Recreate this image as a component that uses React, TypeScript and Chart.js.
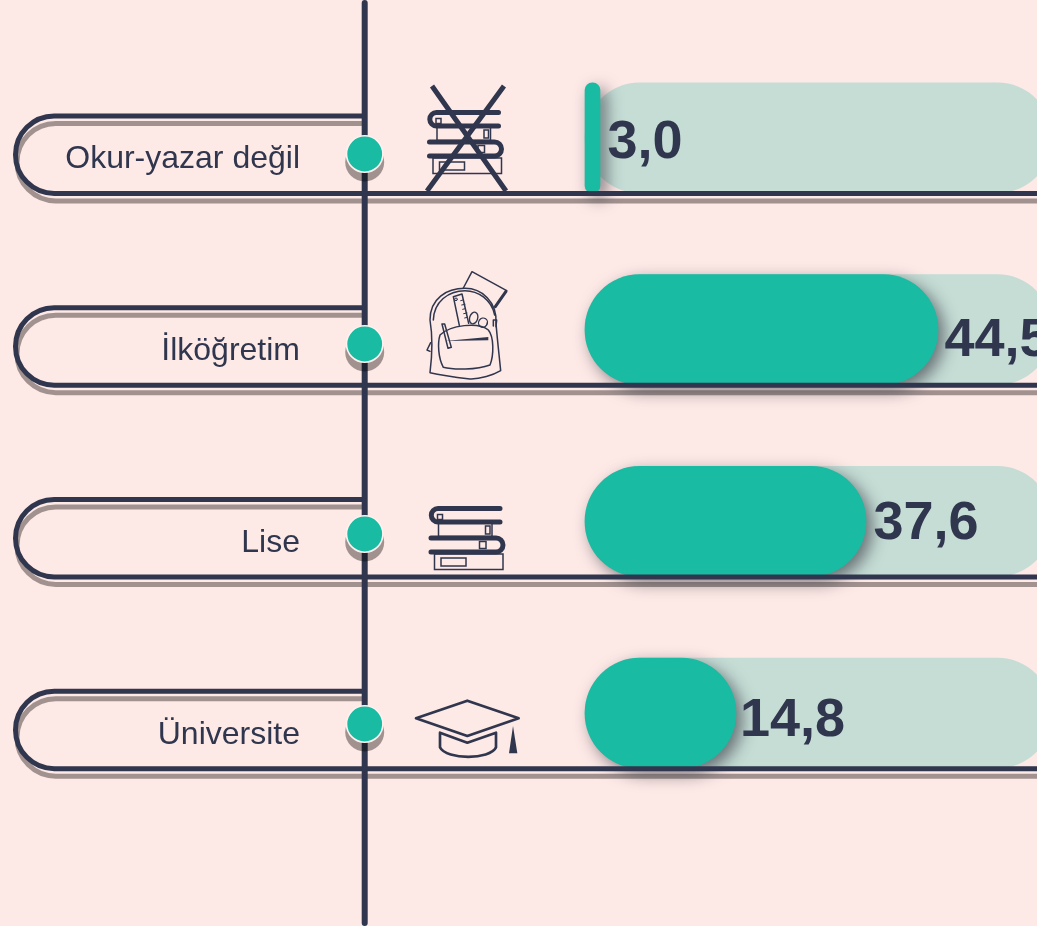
import React, { useEffect, useRef } from "react";
import { Chart, registerables, LinearScale } from "chart.js";

const categories = ["Okur-yazar değil", "İlköğretim", "Lise", "Üniversite"];
const shareValues = [3.0, 44.5, 37.6, 14.8];
const trackValues = [100, 100, 100, 100];
const valueLabels = ["3,0", "44,5", "37,6", "14,8"];

const NAVY = "#30364d";
const TEAL = "#19bba3";
const TRACK = "#c5ddd5";
const BG = "#fde9e6";
const SHADE = "#a2a0a0";

const LINE_X = 364.7;
const DOT_Y = [154, 344, 534, 724];
const VALUE_BASE = [20, 26, 17.5, 22.5];
const VALUE_GAP = [7.5, 6.5, 7.5, 4];

// The source infographic does not draw its bars in proportion to the printed
// numbers, so the axis maps values to the lengths seen in the picture.
const AXIS_VALUES = [0, 3, 14.8, 37.6, 44.5, 100];
const AXIS_PIXELS = [585, 600, 736, 866, 938, 1052];

class PictureScale extends (LinearScale as any) {
  static id = "picture";
  static defaults = (LinearScale as any).defaults;
  getPixelForValue(v: number) {
    for (let i = 1; i < AXIS_VALUES.length; i++) {
      if (v <= AXIS_VALUES[i]) {
        const t = (v - AXIS_VALUES[i - 1]) / (AXIS_VALUES[i] - AXIS_VALUES[i - 1]);
        return AXIS_PIXELS[i - 1] + t * (AXIS_PIXELS[i] - AXIS_PIXELS[i - 1]);
      }
    }
    return AXIS_PIXELS[AXIS_PIXELS.length - 1];
  }
}

Chart.register(...registerables, PictureScale as any);

function rowPath(ctx: CanvasRenderingContext2D, top: number, bottom: number, rightTop: number, rightBottom: number, dx: number, dy: number) {
  const r = (bottom - top) / 2;
  const left = 15.5 + r;
  ctx.beginPath();
  ctx.moveTo(rightTop + dx, top + dy);
  ctx.lineTo(left + dx, top + dy);
  ctx.arc(left + dx, top + r + dy, r, -Math.PI / 2, Math.PI / 2, true);
  ctx.lineTo(rightBottom + dx, bottom + dy);
  ctx.stroke();
}

function drawBooks(ctx: CanvasRenderingContext2D, ox: number, oy: number) {
  ctx.save();
  ctx.translate(ox, oy);
  ctx.strokeStyle = NAVY;
  ctx.lineCap = "round";
  ctx.lineWidth = 5;
  ctx.beginPath();
  ctx.moveTo(500, 508.5);
  ctx.lineTo(438, 508.5);
  ctx.arc(438, 515.2, 6.7, -Math.PI / 2, Math.PI / 2, true);
  ctx.lineTo(500, 521.9);
  ctx.stroke();
  ctx.beginPath();
  ctx.moveTo(431, 538);
  ctx.lineTo(496, 538);
  ctx.arc(496, 545, 7, -Math.PI / 2, Math.PI / 2, false);
  ctx.lineTo(431, 552);
  ctx.stroke();
  ctx.lineWidth = 1.5;
  ctx.lineCap = "butt";
  ctx.strokeRect(438.5, 523, 53.5, 13.5);
  ctx.strokeRect(434.5, 554, 68.5, 15.5);
  ctx.strokeRect(441, 558, 25, 8);
  ctx.strokeRect(485.5, 526, 4.5, 8);
  ctx.strokeRect(437.5, 514.5, 5, 5);
  ctx.strokeRect(479.5, 541.5, 6.5, 7);
  ctx.restore();
}

function drawCross(ctx: CanvasRenderingContext2D) {
  ctx.save();
  ctx.strokeStyle = NAVY;
  ctx.lineWidth = 5;
  ctx.beginPath();
  ctx.moveTo(432, 86);
  ctx.lineTo(506, 191);
  ctx.moveTo(504, 86);
  ctx.lineTo(427, 191);
  ctx.stroke();
  ctx.restore();
}

function drawBackpack(ctx: CanvasRenderingContext2D) {
  ctx.save();
  ctx.translate(410, 260);
  ctx.scale(1 / 3, 1 / 3);
  ctx.strokeStyle = NAVY;
  ctx.fillStyle = NAVY;
  ctx.lineWidth = 4.5;
  ctx.lineJoin = "round";
  ctx.lineCap = "round";
  // book
  ctx.beginPath();
  ctx.moveTo(160, 84);
  ctx.lineTo(186, 35);
  ctx.lineTo(290, 92);
  ctx.lineTo(258, 136);
  ctx.stroke();
  ctx.lineWidth = 9;
  ctx.beginPath();
  ctx.moveTo(288, 94);
  ctx.lineTo(256, 140);
  ctx.stroke();
  ctx.lineWidth = 4.5;
  // body
  ctx.beginPath();
  ctx.moveTo(60, 180);
  ctx.bezierCurveTo(60, 115, 110, 85, 165, 85);
  ctx.bezierCurveTo(215, 85, 262, 125, 258, 190);
  ctx.bezierCurveTo(262, 240, 268, 290, 272, 332);
  ctx.bezierCurveTo(250, 345, 210, 358, 180, 357);
  ctx.bezierCurveTo(140, 352, 95, 346, 60, 338);
  ctx.bezierCurveTo(66, 290, 70, 240, 60, 180);
  ctx.stroke();
  ctx.beginPath();
  ctx.moveTo(70, 180);
  ctx.bezierCurveTo(72, 125, 115, 92, 165, 92);
  ctx.bezierCurveTo(205, 92, 245, 120, 254, 165);
  ctx.stroke();
  // ruler
  ctx.beginPath();
  ctx.moveTo(148, 196);
  ctx.lineTo(130, 110);
  ctx.lineTo(156, 102);
  ctx.lineTo(176, 190);
  ctx.stroke();
  ctx.lineWidth = 3;
  ctx.beginPath();
  for (let i = 0; i < 5; i++) {
    const y = 122 + i * 13;
    const x = 152 + i * 3;
    ctx.moveTo(x, y);
    ctx.lineTo(x + (i % 2 ? 10 : 7), y - 2);
  }
  ctx.stroke();
  ctx.beginPath();
  ctx.arc(138, 118, 4, 0, Math.PI * 2);
  ctx.stroke();
  // scissors
  ctx.lineWidth = 4;
  ctx.beginPath();
  ctx.ellipse(191, 174, 12, 18, 0.3, 0, Math.PI * 2);
  ctx.moveTo(232, 187);
  ctx.ellipse(219, 188, 13, 14, 0.6, 0, Math.PI * 2);
  ctx.stroke();
  ctx.lineWidth = 4.5;
  // pocket
  ctx.beginPath();
  ctx.moveTo(90, 225);
  ctx.bezierCurveTo(120, 195, 205, 185, 235, 210);
  ctx.bezierCurveTo(252, 230, 252, 285, 240, 315);
  ctx.bezierCurveTo(200, 330, 130, 330, 100, 322);
  ctx.bezierCurveTo(85, 295, 82, 250, 90, 225);
  ctx.stroke();
  // zipper
  ctx.beginPath();
  ctx.moveTo(105, 243);
  ctx.lineTo(235, 231);
  ctx.lineTo(235, 241);
  ctx.closePath();
  ctx.fill();
  // pen
  ctx.beginPath();
  ctx.moveTo(96, 192);
  ctx.lineTo(104, 192);
  ctx.lineTo(124, 262);
  ctx.lineTo(114, 265);
  ctx.closePath();
  ctx.stroke();
  // side straps
  ctx.beginPath();
  ctx.moveTo(62, 248);
  ctx.lineTo(51, 270);
  ctx.lineTo(60, 274);
  ctx.moveTo(250, 198);
  ctx.lineTo(250, 180);
  ctx.lineTo(260, 180);
  ctx.lineTo(258, 200);
  ctx.stroke();
  ctx.restore();
}

function drawCap(ctx: CanvasRenderingContext2D) {
  ctx.save();
  ctx.translate(410, 690);
  ctx.scale(1 / 3, 1 / 3);
  ctx.strokeStyle = NAVY;
  ctx.fillStyle = NAVY;
  ctx.lineWidth = 8;
  ctx.lineJoin = "round";
  ctx.beginPath();
  ctx.moveTo(18, 85);
  ctx.lineTo(172, 32);
  ctx.lineTo(326, 85);
  ctx.lineTo(172, 138);
  ctx.closePath();
  ctx.stroke();
  ctx.beginPath();
  ctx.moveTo(90, 128);
  ctx.lineTo(172, 158);
  ctx.lineTo(258, 128);
  ctx.lineTo(258, 172);
  ctx.bezierCurveTo(240, 210, 110, 210, 90, 172);
  ctx.closePath();
  ctx.stroke();
  ctx.beginPath();
  ctx.moveTo(309, 108);
  ctx.lineTo(322, 190);
  ctx.lineTo(297, 190);
  ctx.closePath();
  ctx.fill();
  ctx.restore();
}

const infographic = {
  id: "infographic",
  beforeDraw(chart: any) {
    const { ctx, width, height } = chart;
    ctx.save();
    ctx.fillStyle = BG;
    ctx.fillRect(0, 0, width, height);
    ctx.restore();
  },
  beforeDatasetsDraw(chart: any) {
    const { ctx, scales } = chart;
    ctx.save();
    ctx.globalCompositeOperation = "multiply";
    ctx.lineWidth = 5;
    ctx.strokeStyle = SHADE;
    categories.forEach((_, i) => {
      const c = scales.y.getPixelForValue(i);
      rowPath(ctx, c - 22, c + 55.5, 361, 1100, 1.5, 7.5);
    });
    ctx.restore();
  },
  beforeDatasetDraw(chart: any, args: any) {
    if (args.index !== 1) return;
    const { ctx } = chart;
    ctx.save();
    ctx.shadowColor = "rgba(48,48,60,0.62)";
    ctx.shadowBlur = 16;
    ctx.shadowOffsetX = 6;
    ctx.shadowOffsetY = 6;
  },
  afterDatasetDraw(chart: any, args: any) {
    if (args.index === 1) chart.ctx.restore();
  },
  afterDatasetsDraw(chart: any) {
    const { ctx, scales } = chart;
    ctx.save();
    ctx.lineWidth = 5;
    ctx.strokeStyle = NAVY;
    categories.forEach((_, i) => {
      const c = scales.y.getPixelForValue(i);
      rowPath(ctx, c - 22, c + 55.5, LINE_X, 1100, 0, 0);
    });
    ctx.beginPath();
    ctx.lineWidth = 6;
    ctx.lineCap = "round";
    ctx.moveTo(LINE_X, 3);
    ctx.lineTo(LINE_X, 923);
    ctx.stroke();
    ctx.lineCap = "butt";

    categories.forEach((name, i) => {
      const c = scales.y.getPixelForValue(i);
      ctx.save();
      ctx.globalCompositeOperation = "multiply";
      ctx.fillStyle = SHADE;
      ctx.beginPath();
      ctx.arc(LINE_X, DOT_Y[i] + 8, 19.5, 0, Math.PI * 2);
      ctx.fill();
      ctx.restore();
      ctx.fillStyle = TEAL;
      ctx.strokeStyle = "#fdf2ef";
      ctx.lineWidth = 1.6;
      ctx.beginPath();
      ctx.arc(LINE_X, DOT_Y[i], 18.2, 0, Math.PI * 2);
      ctx.fill();
      ctx.stroke();

      ctx.fillStyle = NAVY;
      ctx.font = '32px "Liberation Sans"';
      ctx.textAlign = "right";
      ctx.textBaseline = "alphabetic";
      ctx.fillText(name, 300, c + 30.5);

      ctx.font = 'bold 54px "Liberation Sans"';
      ctx.textAlign = "left";
      ctx.fillText(valueLabels[i], scales.x.getPixelForValue(shareValues[i]) + VALUE_GAP[i], c + VALUE_BASE[i]);
    });

    drawBooks(ctx, -1.5, -396);
    drawCross(ctx);
    drawBackpack(ctx);
    drawBooks(ctx, 0, 0);
    drawCap(ctx);
    ctx.restore();
  },
};

export default function App() {
  const ref = useRef<HTMLCanvasElement>(null);
  useEffect(() => {
    document.body.style.margin = "0";
    document.body.style.background = BG;
    const chart = new Chart(ref.current as HTMLCanvasElement, {
      type: "bar",
      data: {
        labels: categories,
        datasets: [
          { label: "Tüm", data: trackValues, backgroundColor: TRACK, order: 2, clip: false } as any,
          { label: "Pay", data: shareValues, backgroundColor: TEAL, order: 1, clip: false } as any,
        ],
      },
      options: {
        indexAxis: "y",
        animation: false,
        responsive: false,
        devicePixelRatio: 1,
        layout: { padding: { left: 585, right: 48, top: 42, bottom: 117 } },
        datasets: { bar: { grouped: false, barThickness: 110, borderRadius: 55, borderSkipped: false } },
        scales: {
          x: { type: "picture", min: 0, max: 100, display: false },
          y: { type: "category", display: false },
        },
        plugins: { legend: { display: false }, tooltip: { enabled: false }, title: { display: false } },
      } as any,
      plugins: [infographic as any],
    });
    return () => chart.destroy();
  }, []);
  return (
    <div style={{ position: "absolute", left: 0, top: 0, width: 1037, height: 926, overflow: "hidden", background: BG }}>
      <canvas ref={ref} width={1100} height={926} style={{ display: "block" }} />
    </div>
  );
}
